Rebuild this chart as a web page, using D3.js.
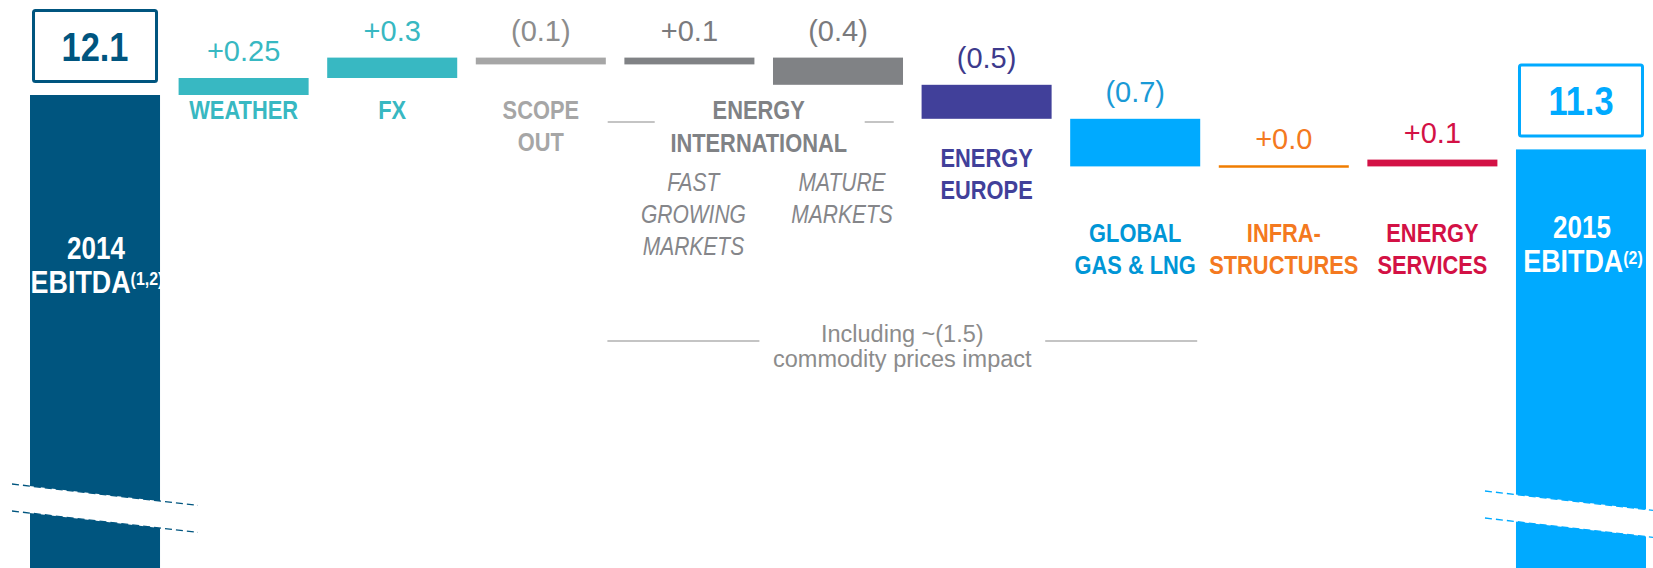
<!DOCTYPE html>
<html>
<head>
<meta charset="utf-8">
<script src="https://cdn.jsdelivr.net/npm/d3@7"></script>
<style>
  html, body { margin: 0; padding: 0; background: #fff; }
  svg { display: block; font-family: "Liberation Sans", Arial, Helvetica, sans-serif; }
</style>
</head>
<body>
<svg id="chart" width="1653" height="568"></svg>
<script>
// EBITDA bridge 2014 -> 2015 (EUR bn)
const totalYears = ["2014", "2015"];
const totalValues = [12.1, 11.3];
const totalNotes = ["(1,2)", "(2)"];

const stepKeys = ["weather", "fx", "scope", "intlFast", "intlMature", "europe", "gas", "infra", "services"];
const stepDeltas = [0.25, 0.3, -0.1, 0.1, -0.4, -0.5, -0.7, 0.0, 0.1];
const stepLabels = [
  ["WEATHER"],
  ["FX"],
  ["SCOPE", "OUT"],
  ["FAST", "GROWING", "MARKETS"],
  ["MATURE", "MARKETS"],
  ["ENERGY", "EUROPE"],
  ["GLOBAL", "GAS & LNG"],
  ["INFRA-", "STRUCTURES"],
  ["ENERGY", "SERVICES"]
];
const groupLabel = ["ENERGY", "INTERNATIONAL"];
const noteLines = ["Including ~(1.5)", "commodity prices impact"];

// ---- styling ----
const W = 1653, H = 568;
const NARROW = 0.84;
const barColor = {
  total0: "#00557f", total1: "#00aaff",
  weather: "#38b8c2", fx: "#38b8c2", scope: "#a6a6a6",
  intlFast: "#808285", intlMature: "#808285",
  europe: "#41409a", gas: "#00aaff", infra: "#f07d00", services: "#d31145"
};
const labelColor = {
  weather: "#38b8c2", fx: "#38b8c2", scope: "#a6a6a6",
  intlFast: "#85868a", intlMature: "#85868a",
  europe: "#41409a", gas: "#0096d6", infra: "#f47920", services: "#d31145"
};
const valueColor = {
  weather: "#38b8c2", fx: "#38b8c2", scope: "#8c8c8c",
  intlFast: "#7a7a7d", intlMature: "#7a7a7d",
  europe: "#3d3a8c", gas: "#1a9ad6", infra: "#f47920", services: "#d31145"
};
// first baseline of each category caption
const captionTop = {
  weather: 119, fx: 119, scope: 119, intlFast: 191, intlMature: 191,
  europe: 167, gas: 242, infra: 242, services: 242
};
const totalCaptionTop = [259, 238];
const LINE = 32;

const svg = d3.select("#chart");

const cats = ["t0", ...stepKeys, "t1"];
const x = d3.scaleBand()
  .domain(cats)
  .range([30, 1646])
  .paddingInner(0.125)
  .paddingOuter(0);
const bw = x.bandwidth();
const cx = k => x(k) + bw / 2;

const topY = 95, pxPerUnit = 68;
const y = d3.scaleLinear()
  .domain([totalValues[1], totalValues[0]])
  .range([topY + (totalValues[0] - totalValues[1]) * pxPerUnit, topY]);

// cumulative levels of the bridge
let level = totalValues[0];
const steps = stepKeys.map((k, i) => {
  const from = level;
  level = +(level + stepDeltas[i]).toFixed(4);
  return { key: k, delta: stepDeltas[i], from, to: level, lines: stepLabels[i] };
});

const fmtDelta = d => {
  const a = Math.abs(d);
  const s = Math.round(a * 10) === a * 10 ? a.toFixed(1) : a.toFixed(2);
  return d < 0 ? `(${s})` : `+${s}`;
};

function narrow(sel, txt, px, py, style) {
  const t = sel.append("text")
    .attr("transform", `translate(${px},${py}) scale(${NARROW},1)`)
    .attr("text-anchor", "middle")
    .text(txt);
  Object.entries(style).forEach(([k, v]) => t.style(k, v));
  return t;
}

// ---- total bars (axis broken at the bottom) ----
const totals = totalValues.map((v, i) => ({ v, key: "t" + i, year: totalYears[i], note: totalNotes[i], i }));
const gTot = svg.append("g");
totals.forEach(d => {
  const col = barColor["total" + d.i];
  const top = y(d.v);
  gTot.append("rect")
    .attr("x", x(d.key)).attr("y", top)
    .attr("width", bw).attr("height", H - top)
    .attr("fill", col);

  // value box above the bar
  const boxH = 74, boxW = 126, gap = 12;
  const bx = cx(d.key) - boxW / 2, by = top - gap - boxH;
  gTot.append("rect")
    .attr("x", bx + 1.5).attr("y", by + 1.5)
    .attr("width", boxW - 3).attr("height", boxH - 3)
    .attr("rx", 2)
    .attr("fill", "#fff").attr("stroke", col).attr("stroke-width", 3);
  narrow(gTot, d3.format(".1f")(d.v), cx(d.key), by + boxH / 2 + 15,
    { "font-size": "41px", "font-weight": "bold", fill: col });

  // caption inside the bar
  const c0 = totalCaptionTop[d.i];
  narrow(gTot, d.year, cx(d.key) + 1, c0, { "font-size": "31px", "font-weight": "bold", fill: "#fff" });
  const t = gTot.append("text")
    .attr("transform", `translate(${cx(d.key) + 2},${c0 + 34}) scale(${NARROW},1)`)
    .attr("text-anchor", "middle")
    .style("font-size", "32px").style("font-weight", "bold").style("fill", "#fff");
  t.append("tspan").text("EBITDA");
  t.append("tspan").attr("dy", -8).style("font-size", "19px").text(d.note);
});

// axis-break marks across the total bars
const slope = 0.115;
const breaks = [
  { key: "t0", x0: x("t0") - 18, x1: x("t0") + bw + 38, yAt: 484 },
  { key: "t1", x0: x("t1") - 31, x1: W, yAt: 491 }
];
breaks.forEach((b, i) => {
  const col = barColor["total" + i];
  const yy = (xv, off) => b.yAt + off + (xv - b.x0) * slope;
  const band = 27;
  gTot.append("path")
    .attr("d", `M${b.x0},${yy(b.x0, 0)} L${b.x1},${yy(b.x1, 0)} L${b.x1},${yy(b.x1, band)} L${b.x0},${yy(b.x0, band)} Z`)
    .attr("fill", "#fff");
  [0, band].forEach(off => {
    gTot.append("line")
      .attr("x1", b.x0).attr("y1", yy(b.x0, off))
      .attr("x2", b.x1).attr("y2", yy(b.x1, off))
      .attr("stroke", col).attr("stroke-width", 1.3)
      .attr("stroke-dasharray", "7 4");
  });
});

// ---- bridge steps ----
const gStep = svg.append("g");
steps.forEach(s => {
  const hi = Math.max(s.from, s.to), lo = Math.min(s.from, s.to);
  if (s.delta === 0) {
    gStep.append("line")
      .attr("x1", x(s.key)).attr("x2", x(s.key) + bw)
      .attr("y1", y(s.from)).attr("y2", y(s.from))
      .attr("stroke", barColor[s.key]).attr("stroke-width", 2.5);
  } else {
    gStep.append("rect")
      .attr("x", x(s.key)).attr("y", y(hi))
      .attr("width", bw).attr("height", y(lo) - y(hi))
      .attr("fill", barColor[s.key]);
  }
  gStep.append("text")
    .attr("x", cx(s.key)).attr("y", y(hi) - 17)
    .attr("text-anchor", "middle")
    .style("font-size", "29px").style("fill", valueColor[s.key])
    .text(fmtDelta(s.delta));

  const italic = s.key === "intlFast" || s.key === "intlMature";
  s.lines.forEach((ln, j) => {
    narrow(gStep, ln, cx(s.key) + (italic ? 4 : 0), captionTop[s.key] + j * LINE, {
      "font-size": italic ? "25px" : "26px",
      "font-weight": italic ? "normal" : "bold",
      "font-style": italic ? "italic" : "normal",
      fill: labelColor[s.key]
    });
  });
});

// group heading over the two Energy International steps
const gx = (cx("intlFast") + cx("intlMature")) / 2 - 5;
groupLabel.forEach((ln, j) => {
  narrow(gStep, ln, gx, 119 + j * 33, { "font-size": "26px", "font-weight": "bold", fill: "#808285" });
});
[[gx - 151, gx - 104], [gx + 106, gx + 135]].forEach(([a, b]) => {
  gStep.append("line").attr("x1", a).attr("x2", b).attr("y1", 122).attr("y2", 122)
    .attr("stroke", "#b0b0b0").attr("stroke-width", 1.5);
});

// commodity-price note spanning the affected steps
const n0 = x("intlFast") - 17, n1 = x("gas") + bw - 3, nc = (n0 + n1) / 2;
[[n0, n0 + 152], [n1 - 152, n1]].forEach(([a, b]) => {
  gStep.append("line").attr("x1", a).attr("x2", b).attr("y1", 341).attr("y2", 341)
    .attr("stroke", "#b0b0b0").attr("stroke-width", 1.5);
});
noteLines.forEach((ln, j) => {
  gStep.append("text")
    .attr("x", nc).attr("y", 342 + j * 25)
    .attr("text-anchor", "middle")
    .style("font-size", "23.5px").style("fill", "#8c8c8c")
    .text(ln);
});
</script>
</body>
</html>
